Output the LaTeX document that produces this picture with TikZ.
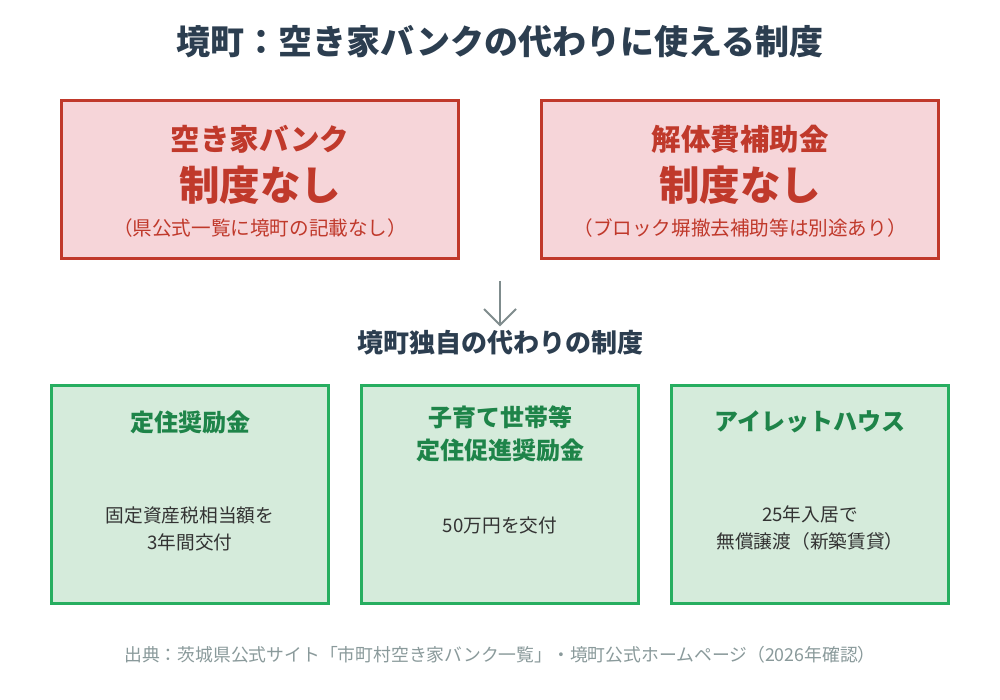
\documentclass[tikz,border=0pt]{standalone}
\usepackage{fontspec}
\setmainfont{Noto Sans CJK JP}
\usetikzlibrary{arrows.meta}
\definecolor{titlec}{HTML}{2C3E50}
\definecolor{redc}{HTML}{C0392B}
\definecolor{redfill}{HTML}{F6D5D9}
\definecolor{greenc}{HTML}{27AE60}
\definecolor{greenfill}{HTML}{D5EBDB}
\definecolor{greentext}{HTML}{1E8449}
\definecolor{bodyc}{HTML}{333333}
\definecolor{grayc}{HTML}{8A9A9B}
\definecolor{arrowc}{HTML}{7F8C8D}
\tikzset{
  redbox/.style={draw=redc, fill=redfill, line width=3pt, minimum width=397pt, minimum height=158pt, inner sep=0pt},
  greenbox/.style={draw=greenc, fill=greenfill, line width=3pt, minimum width=277pt, minimum height=218pt, inner sep=0pt},
  txt/.style={inner sep=0pt, align=center},
}
\begin{document}
\begin{tikzpicture}[x=1pt,y=-1pt]
\useasboundingbox (0,0) rectangle (1000,700);
\fill[white] (0,0) rectangle (1000,700);
% title
\node[txt, text=titlec, font=\fontsize{34}{40}\selectfont\bfseries] (title) at (500,42) {境町：空き家バンクの代わりに使える制度};
% red boxes
\node[redbox] (rb1) at (260,179.5) {};
\node[redbox] (rb2) at (740,179.5) {};
\node[txt, text=redc, font=\fontsize{29.5}{34}\selectfont\bfseries] (rb1a) at (260,139) {空き家バンク};
\node[txt, text=redc, font=\fontsize{40.5}{46}\selectfont\bfseries] (rb1b) at (260,185) {制度なし};
\node[txt, text=redc, font=\fontsize{19.6}{24}\selectfont] (rb1c) at (260,228) {（県公式一覧に境町の記載なし）};
\node[txt, text=redc, font=\fontsize{29.5}{34}\selectfont\bfseries] (rb2a) at (740,139) {解体費補助金};
\node[txt, text=redc, font=\fontsize{40.5}{46}\selectfont\bfseries] (rb2b) at (740,185) {制度なし};
\node[txt, text=redc, font=\fontsize{19.6}{24}\selectfont] (rb2c) at (740,228) {（ブロック塀撤去補助等は別途あり）};
% arrow
\coordinate (atop) at (500,281);
\coordinate (abot) at (500,325);
\draw[arrowc, line width=2pt] (atop) -- (abot);
\draw[arrowc, line width=2pt, line join=miter] (484,309) -- (abot) -- (516,309);
% subtitle
\node[txt, text=titlec, font=\fontsize{26}{30}\selectfont\bfseries] (sub) at (500,343) {境町独自の代わりの制度};
% green boxes
\node[greenbox] (g1) at (190,494.5) {};
\node[greenbox] (g2) at (500,494.5) {};
\node[greenbox] (g3) at (810,494.5) {};
\node[txt, text=greentext, font=\fontsize{24}{33}\selectfont\bfseries] (g1t) at (190,422) {定住奨励金};
\node[txt, text=greentext, font=\fontsize{24}{33}\selectfont\bfseries, anchor=north] (g2t) at (500,406) {子育て世帯等\\定住促進奨励金};
\node[txt, text=greentext, font=\fontsize{24}{33}\selectfont\bfseries] (g3t) at (810,422) {アイレットハウス};
\node[txt, text=bodyc, font=\fontsize{18.7}{27}\selectfont] (g1b) at (190,528.5) {固定資産税相当額を\\3年間交付};
\node[txt, text=bodyc, font=\fontsize{18.7}{27}\selectfont] (g2b) at (500,525) {50万円を交付};
\node[txt, text=bodyc, font=\fontsize{18.7}{27}\selectfont] (g3b) at (810,528.5) {25年入居で\\無償譲渡（新築賃貸）};
% footer
\node[txt, text=grayc, font=\fontsize{17.8}{22}\selectfont] (foot) at (500,655) {出典：茨城県公式サイト「市町村空き家バンク一覧」・境町公式ホームページ（2026年確認）};
\end{tikzpicture}
\end{document}
